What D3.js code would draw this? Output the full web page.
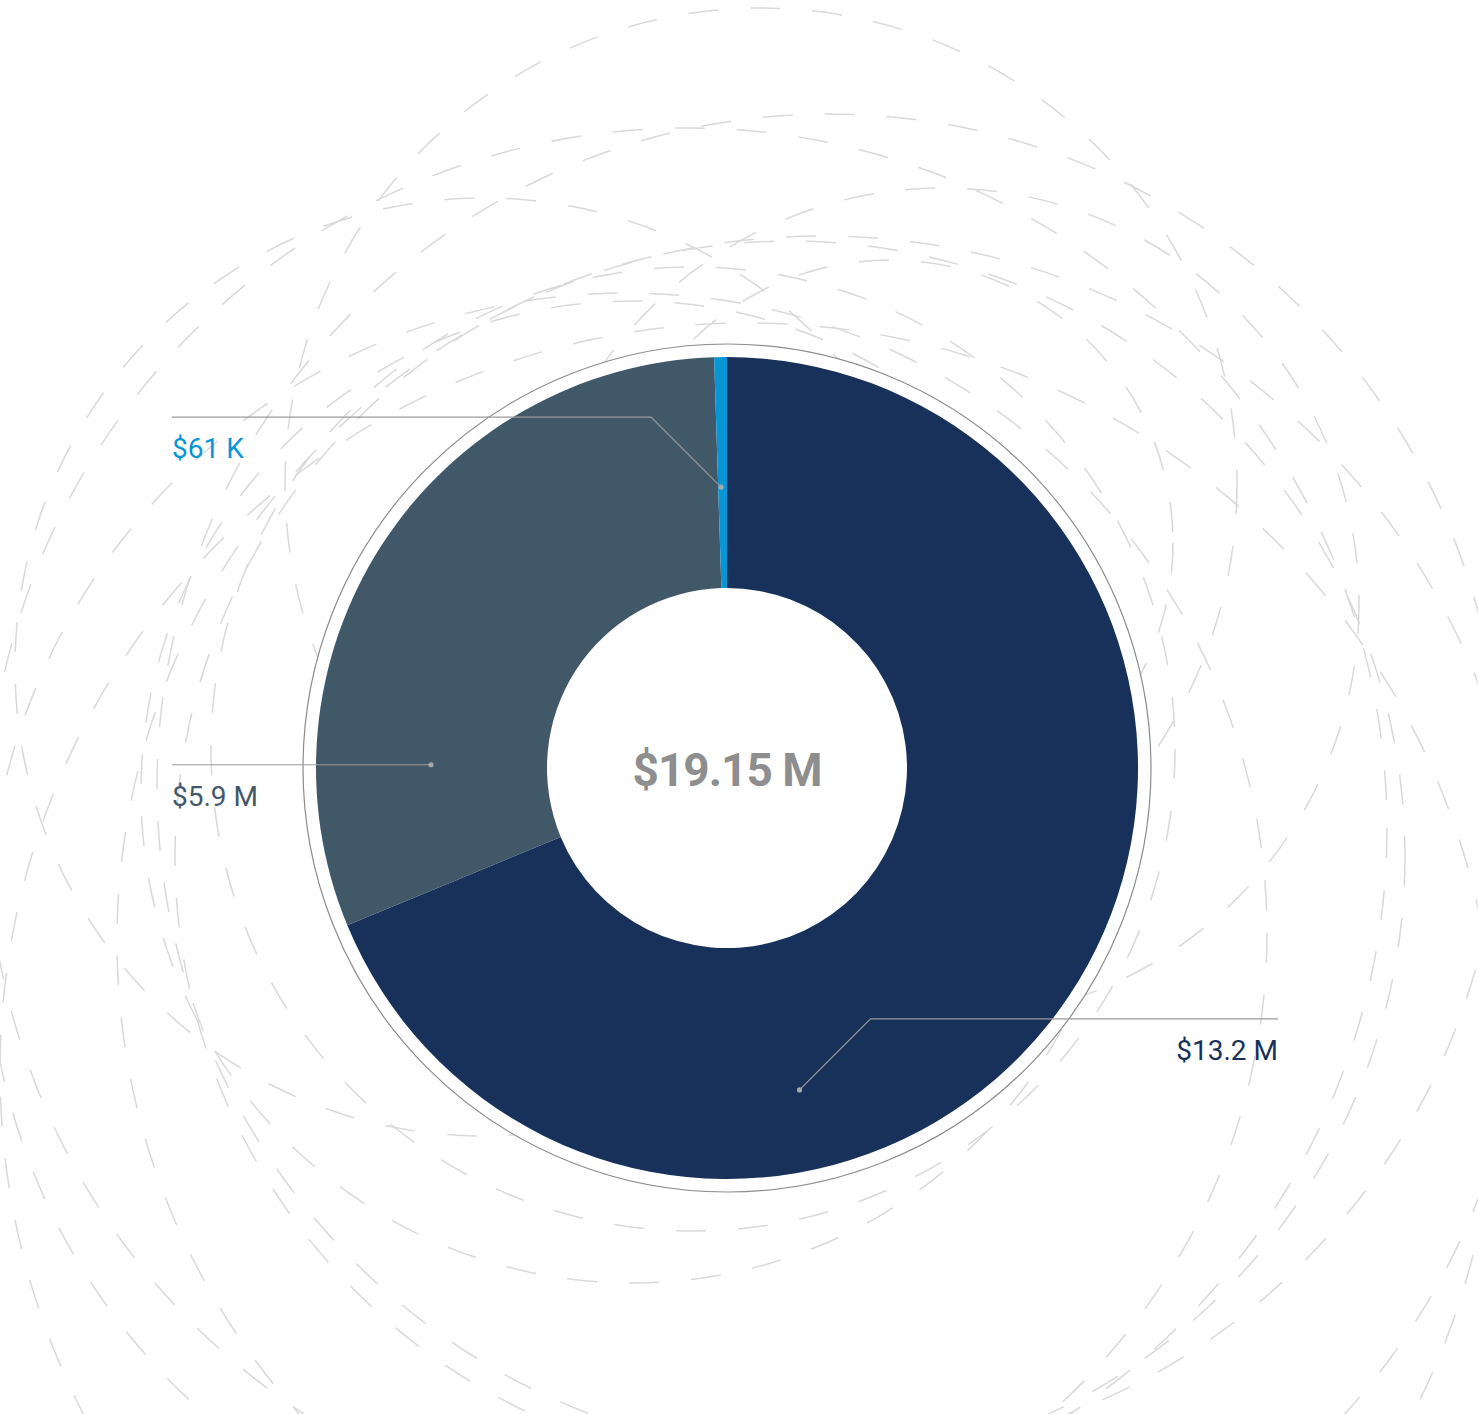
<!DOCTYPE html>
<html>
<head>
<meta charset="utf-8">
<script src="https://cdn.jsdelivr.net/npm/d3@7"></script>
<style>
    body { margin: 0; background: #fff; }
    text { font-family: Roboto, "Noto Sans", sans-serif; }
</style>
</head>
<body>
<div id="chart"></div>
<script>
// slices, in drawing order (clockwise from 12 o'clock)
const segments = ['Segment A', 'Segment B', 'Segment C']
const values = [13190000, 5900000, 61000]
const colors = ['#17315a', '#415869', '#0795d6']

function fmtValue(v) {
    if (v >= 1e6) return `$${(v / 1e6).toFixed(1)} M`
    return `$${Math.round(v / 1e3)} K`
}

function draw() {
    let dimensions = {
        width: 1478,
        height: 1414,
        cx: 727,
        cy: 768,
        inner: 180,
        outer: 411,
        ring: 424,
        labelLeft: 172,
        labelRight: 1278
    }

    const svg = d3.select('#chart')
        .append('svg')
        .attr('width', dimensions.width)
        .attr('height', dimensions.height)

    // decorative dashed ripples behind the donut: [dx, dy, r] from the centre
    const ripples = [
        [34, -284, 476], [102, 18, 672], [216, -164, 416],
        [95, 173, 705], [63, 88, 615], [163, -225, 283],
        [-243, -101, 469], [-100, 165, 640], [-95, 24, 491],
        [-34, -19, 482], [21, 303, 748], [-40, 60, 700]
    ]

    svg.append('g')
        .selectAll('circle')
        .data(ripples)
        .join('circle')
        .attr('cx', d => dimensions.cx + d[0])
        .attr('cy', d => dimensions.cy + d[1])
        .attr('r', d => d[2])
        .attr('fill', 'none')
        .attr('stroke', '#d9d9d9')
        .attr('stroke-width', 1.5)
        .attr('stroke-dasharray', '30 32')

    const ctr = svg.append('g')
        .attr('transform', `translate(${dimensions.cx}, ${dimensions.cy})`)

    // thin outer ring, white inside so ripples stop there
    ctr.append('circle')
        .attr('r', dimensions.ring)
        .attr('fill', '#fff')
        .attr('stroke', '#8c8c8c')
        .attr('stroke-width', 1.2)

    const total = d3.sum(values)
    // tiny slices get a minimum share so they stay visible
    const pie = d3.pie().sort(null).value(d => Math.max(d, total * 0.005))
    const slices = pie(values)
    const arc = d3.arc()
        .innerRadius(dimensions.inner)
        .outerRadius(dimensions.outer)

    ctr.selectAll('path.slice')
        .data(slices)
        .join('path')
        .attr('class', 'slice')
        .attr('d', arc)
        .attr('fill', (d, i) => colors[i])

    ctr.append('text')
        .attr('text-anchor', 'middle')
        .attr('y', 18)
        .attr('font-size', 46)
        .attr('font-weight', 700)
        .attr('letter-spacing', -1)
        .attr('fill', '#8e8e8e')
        .text(`$${(total / 1e6).toFixed(2)} M`)

    // leader lines: where on the slice they start and which side they go
    const leaders = [
        { frac: 0.676, r: 330, rise: 71, side: 'right' },
        { frac: 0.209, r: 296, rise: 0, side: 'left' },
        { frac: 0.33, r: 281, rise: 70, side: 'left' }
    ]

    slices.forEach((d, i) => {
        const L = leaders[i]
        const a = d.startAngle + (d.endAngle - d.startAngle) * L.frac
        const [x, y] = d3.pointRadial(a, L.r)
        const dir = L.side === 'right' ? 1 : -1
        const ex = x + dir * L.rise
        const ey = y - L.rise
        const endX = (L.side === 'right' ? dimensions.labelRight : dimensions.labelLeft) - dimensions.cx

        ctr.append('path')
            .attr('d', d3.line()([[x, y], [ex, ey], [endX, ey]]))
            .attr('fill', 'none')
            .attr('stroke', '#9a9a9a')
            .attr('stroke-width', 1.2)

        ctr.append('circle')
            .attr('cx', x)
            .attr('cy', y)
            .attr('r', 2.6)
            .attr('fill', '#a6a6a6')

        ctr.append('text')
            .attr('x', endX)
            .attr('y', ey + 41)
            .attr('text-anchor', L.side === 'right' ? 'end' : 'start')
            .attr('font-size', 28)
            .attr('fill', colors[i])
            .text(fmtValue(values[i]))
    })
}

draw()
</script>
</body>
</html>
